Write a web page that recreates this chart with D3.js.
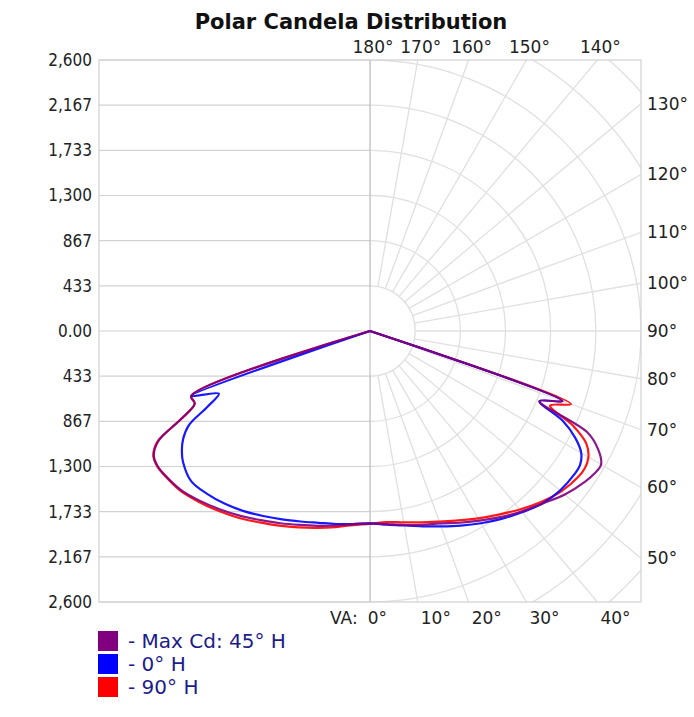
<!DOCTYPE html>
<html>
<head>
<meta charset="utf-8">
<script src="https://cdn.jsdelivr.net/npm/d3@7"></script>
<style>
  body { margin: 0; background: #fff; }
  text { font-family: "DejaVu Sans", Verdana, sans-serif; }
</style>
</head>
<body>
<svg id="chart"></svg>
<script>
// vertical angles (deg from nadir) shared by every half-plane
const vAngles = [0, 5, 10, 15, 20, 25, 30, 35, 40, 45, 50, 55, 57.5, 60, 62.5, 65, 67.5, 70, 72.5, 75, 80, 85, 90];

// candela, right half = H plane, left half = H + 180
const maxRight = [1845, 1860, 1890, 1925, 1965, 2030, 2100, 2180, 2260, 2340, 2440, 2520, 2550, 2560, 2470, 2300, 1760, 1964, 0, 0, 0, 0, 0];
const maxLeft  = [1845, 1860, 1895, 1935, 1980, 2035, 2095, 2165, 2235, 2305, 2370, 2405, 2415, 2395, 2290, 2000, 1820, 1825, 0, 0, 0, 0, 0];
const h0Right  = [1850, 1865, 1895, 1940, 1995, 2060, 2130, 2200, 2270, 2340, 2380, 2395, 2390, 2340, 2220, 2040, 1760, 1964, 0, 0, 0, 0, 0];
const h0Left   = [1845, 1860, 1880, 1905, 1945, 1995, 2050, 2110, 2165, 2210, 2240, 2190, 2140, 2070, 1960, 1720, 1570, 1825, 0, 0, 0, 0, 0];
const h90Right = [1830, 1840, 1865, 1900, 1945, 2005, 2075, 2150, 2235, 2320, 2395, 2440, 2445, 2420, 2340, 2150, 1870, 2050, 0, 0, 0, 0, 0];
const h90Left  = [1850, 1870, 1910, 1955, 2005, 2060, 2120, 2190, 2255, 2320, 2380, 2410, 2420, 2400, 2300, 2000, 1820, 1825, 0, 0, 0, 0, 0];

const cdTicks = [2600, 2166.67, 1733.33, 1300, 866.67, 433.33, 0, -433.33, -866.67, -1300, -1733.33, -2166.67, -2600];
const cdLabels = ["2,600", "2,167", "1,733", "1,300", "867", "433", "0.00", "433", "867", "1,300", "1,733", "2,167", "2,600"];
const topAngles = [180, 170, 160, 150, 140];
const sideAngles = [130, 120, 110, 100, 90, 80, 70, 60, 50];
const bottomAngles = [0, 10, 20, 30, 40];

const seriesNames = ["- Max Cd: 45\u00b0 H", "- 0\u00b0 H", "- 90\u00b0 H"];
const seriesColors = ["#800080", "#0000ff", "#ff0000"];

const width = 694, height = 717;
const cx = 370, cy = 331, R = 271;
const cdMax = 2600;

const svg = d3.select("#chart").attr("width", width).attr("height", height);
svg.append("rect").attr("width", width).attr("height", height).attr("fill", "#fff");

const rScale = d3.scaleLinear().domain([0, cdMax]).range([0, R]);
const yScale = d3.scaleLinear().domain([-cdMax, cdMax]).range([cy + R, cy - R]);

const x0 = cx - R, x1 = cx + R, y0 = cy - R, y1 = cy + R;
const rad = d => d * Math.PI / 180;

// title
svg.append("text")
    .attr("x", 351).attr("y", 29)
    .attr("text-anchor", "middle")
    .attr("font-size", 21).attr("font-weight", "bold")
    .attr("fill", "#111")
    .text("Polar Candela Distribution");

// left half: horizontal grid
const grid = svg.append("g").attr("class", "grid");
grid.selectAll("line.h")
    .data(cdTicks)
    .enter().append("line")
        .attr("class", "h")
        .attr("x1", x0).attr("x2", cx)
        .attr("y1", d => yScale(d)).attr("y2", d => yScale(d))
        .attr("stroke", "#d2d2d2").attr("stroke-width", 1.2);

// right half: polar grid, clipped to the half box
svg.append("clipPath").attr("id", "rightHalf")
    .append("rect").attr("x", cx).attr("y", y0).attr("width", R).attr("height", 2 * R);

const polar = svg.append("g").attr("clip-path", "url(#rightHalf)");
const ringValues = d3.range(1, 9).map(k => k * cdMax / 6);
polar.selectAll("circle")
    .data(ringValues)
    .enter().append("circle")
        .attr("cx", cx).attr("cy", cy)
        .attr("r", d => rScale(d))
        .attr("fill", "none")
        .attr("stroke", "#e0e0e0").attr("stroke-width", 1.3);

const spokeAngles = d3.range(0, 181, 10);
polar.selectAll("line")
    .data(spokeAngles)
    .enter().append("line")
        .attr("x1", d => cx + rScale(cdMax / 6) * Math.sin(rad(d)))
        .attr("y1", d => cy + rScale(cdMax / 6) * Math.cos(rad(d)))
        .attr("x2", d => cx + rScale(cdMax * 1.6) * Math.sin(rad(d)))
        .attr("y2", d => cy + rScale(cdMax * 1.6) * Math.cos(rad(d)))
        .attr("stroke", "#e0e0e0").attr("stroke-width", 1.3);

// centre vertical and frame
svg.append("line")
    .attr("x1", cx).attr("x2", cx).attr("y1", y0).attr("y2", y1)
    .attr("stroke", "#b4b4b4").attr("stroke-width", 1);
svg.append("rect")
    .attr("x", x0).attr("y", y0).attr("width", 2 * R).attr("height", 2 * R)
    .attr("fill", "none").attr("stroke", "#d0d0d0").attr("stroke-width", 1.2);

// left axis labels
const yAxis = d3.axisLeft(yScale)
    .tickValues(cdTicks)
    .tickFormat((d, i) => cdLabels[i])
    .tickSize(0).tickPadding(7);
const yAxisG = svg.append("g").attr("transform", "translate(" + x0 + ",0)").call(yAxis);
yAxisG.select(".domain").remove();
yAxisG.selectAll("text")
    .attr("font-family", "'DejaVu Sans Condensed', 'DejaVu Sans', sans-serif")
    .attr("font-stretch", "condensed")
    .attr("font-size", 17).attr("fill", "#222");

// angle labels
const labels = svg.append("g").attr("font-size", 17).attr("fill", "#222");
labels.selectAll("text.top")
    .data(topAngles)
    .enter().append("text")
        .attr("class", "top")
        .attr("x", d => cx + R * Math.tan(rad(180 - d)) + 3)
        .attr("y", y0 - 7)
        .attr("text-anchor", "middle")
        .text(d => d + "\u00b0");
labels.selectAll("text.side")
    .data(sideAngles)
    .enter().append("text")
        .attr("class", "side")
        .attr("x", x1 + 6)
        .attr("y", d => cy + R / Math.tan(rad(d)))
        .attr("dy", "0.35em")
        .text(d => d + "\u00b0");
const bottomText = labels.selectAll("text.bottom")
    .data(bottomAngles)
    .enter().append("text")
        .attr("class", "bottom")
        .attr("x", d => d === 0 ? cx + 17 : cx + R * Math.tan(rad(d)) + 3)
        .attr("y", y1 + 22)
        .attr("text-anchor", d => d === 0 ? "end" : "start");
bottomText.filter(d => d === 0).append("tspan").text("VA:");
bottomText.append("tspan")
    .attr("dx", d => d === 0 ? 10 : 0)
    .text(d => d + "\u00b0");

// candela curves: left half from 90 down to 0, then right half from 0 to 90
const radial = d3.lineRadial()
    .angle(d => d.a)
    .radius(d => rScale(d.cd))
    .curve(d3.curveCatmullRom.alpha(0.5));

function buildPoints(left, right){
    const pts = [];
    for (let i = vAngles.length - 1; i >= 0; i--) pts.push({a: Math.PI + rad(vAngles[i]), cd: left[i]});
    for (let i = 1; i < vAngles.length; i++) pts.push({a: Math.PI - rad(vAngles[i]), cd: right[i]});
    return pts;
}

const curves = [
    {left: h90Left, right: h90Right, color: seriesColors[2]},
    {left: h0Left, right: h0Right, color: seriesColors[1]},
    {left: maxLeft, right: maxRight, color: seriesColors[0]}
];
const plot = svg.append("g").attr("transform", "translate(" + cx + "," + cy + ")");
plot.selectAll("path")
    .data(curves)
    .enter().append("path")
        .attr("d", d => radial(buildPoints(d.left, d.right)))
        .attr("fill", "none")
        .attr("stroke", d => d.color)
        .attr("stroke-width", 2.2)
        .attr("stroke-linejoin", "round")
        .attr("opacity", 0.9);

// legend
const legend = svg.append("g").attr("transform", "translate(98,631)");
const rows = legend.selectAll("g")
    .data(seriesNames)
    .enter().append("g")
        .attr("transform", (d, i) => "translate(0," + (i * 23) + ")");
rows.append("rect")
    .attr("width", 20).attr("height", 20)
    .attr("fill", (d, i) => seriesColors[i]);
rows.append("text")
    .attr("x", 30).attr("y", 10).attr("dy", "0.36em")
    .attr("font-size", 20).attr("fill", "#1c1c8a")
    .text(d => d);
</script>
</body>
</html>
